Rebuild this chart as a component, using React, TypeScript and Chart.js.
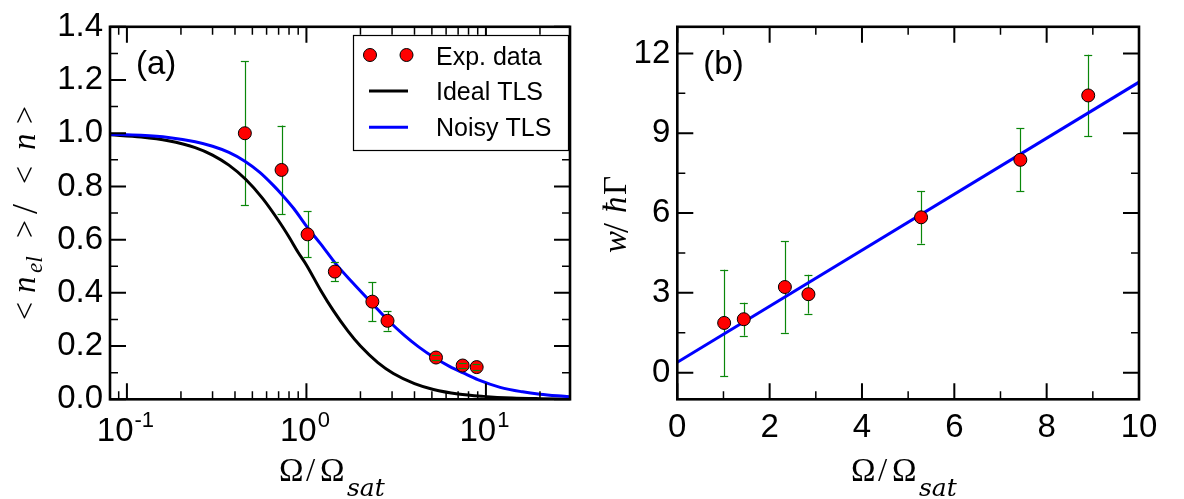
import React, { useEffect, useRef } from 'react';
import { Chart, registerables } from 'chart.js';

Chart.register(...registerables);

// ---------- data ----------
// panel (a)
const OMEGA_A = [0.454, 0.727, 1.015, 1.44, 2.33, 2.83, 5.27, 7.42, 8.88];
const NEL_A = [1.0, 0.862, 0.62, 0.48, 0.367, 0.295, 0.157, 0.127, 0.121];
const NEL_ERR_A = [0.27, 0.167, 0.087, 0.036, 0.074, 0.037, 0.01, 0.01, 0.01];

const IDEAL_X = [0.08, 0.12, 0.17, 0.24, 0.3, 0.37, 0.46, 0.57, 0.7, 0.8, 0.9, 1.0, 1.2, 1.41, 1.7, 2.0, 2.5, 3.05, 4.0, 5.1, 7.0, 9.7, 14, 20, 30];
const IDEAL_Y = [0.994, 0.986, 0.972, 0.946, 0.918, 0.88, 0.826, 0.755, 0.671, 0.61, 0.552, 0.505, 0.41, 0.334, 0.257, 0.2, 0.138, 0.097, 0.059, 0.037, 0.02, 0.011, 0.005, 0.0025, 0.0011];

const NOISY_X = [0.08, 0.12, 0.17, 0.24, 0.3, 0.37, 0.454, 0.55, 0.65, 0.727, 0.85, 1.0, 1.2, 1.47, 1.8, 2.31, 2.86, 3.5, 4.2, 5.2, 6.3, 7.48, 9.0, 12, 16, 20, 25, 30];
const NOISY_Y = [0.996, 0.992, 0.984, 0.968, 0.951, 0.928, 0.895, 0.853, 0.806, 0.771, 0.717, 0.651, 0.584, 0.506, 0.44, 0.362, 0.296, 0.241, 0.198, 0.155, 0.123, 0.099, 0.074, 0.045, 0.028, 0.019, 0.013, 0.0094];

// panel (b)
const OMEGA_B = [1.015, 1.44, 2.33, 2.84, 5.28, 7.43, 8.9];
const W_B = [1.87, 2.01, 3.22, 2.95, 5.84, 8.0, 10.42];
const W_ERR_B = [2.0, 0.62, 1.72, 0.73, 0.99, 1.18, 1.53];
const FIT_X_B = [0, 10];
const FIT_Y_B = [0.39, 10.92];

// ticks
const A_X_MAJOR = [0.1, 1, 10];
const A_X_MINOR = [0.09, 0.2, 0.3, 0.4, 0.5, 0.6, 0.7, 0.8, 0.9, 2, 3, 4, 5, 6, 7, 8, 9, 20];
const A_X_LABELS = ['-1', '0', '1'];
const A_Y_MAJOR = [0, 0.2, 0.4, 0.6, 0.8, 1.0, 1.2, 1.4];
const A_Y_MINOR = [0.1, 0.3, 0.5, 0.7, 0.9, 1.1, 1.3];
const B_X_MAJOR = [0, 2, 4, 6, 8, 10];
const B_X_MINOR = [1, 3, 5, 7, 9];
const B_Y_MAJOR = [0, 3, 6, 9, 12];
const B_Y_MINOR = [1.5, 4.5, 7.5, 10.5];

// ---------- styling ----------
const SANS = "'Liberation Sans', Arial, Helvetica, sans-serif";
const SERIF = "'Liberation Serif', 'Times New Roman', serif";
const TICK_FONT = 33;
const ERR_COLOR = '#0a870a';

type Piece = { t: string; font: string; dx: number; dy: number };

function drawPieces(ctx: CanvasRenderingContext2D, pieces: Piece[], x: number, y: number, rot: boolean) {
  ctx.save();
  ctx.translate(x, y);
  if (rot) ctx.rotate(-Math.PI / 2);
  ctx.fillStyle = '#000';
  ctx.textAlign = 'left';
  ctx.textBaseline = 'alphabetic';
  for (const p of pieces) {
    ctx.font = p.font;
    ctx.fillText(p.t, p.dx, p.dy);
  }
  ctx.restore();
}

const XTITLE: Piece[] = [
  { t: 'Ω', font: `33px ${SERIF}`, dx: 0, dy: 0 },
  { t: '/', font: `33px ${SERIF}`, dx: 27, dy: 0 },
  { t: 'Ω', font: `33px ${SERIF}`, dx: 41, dy: 0 },
  { t: 'sat', font: `italic 25px 'DejaVu Serif', serif`, dx: 68, dy: 15 },
];

const YTITLE_A: Piece[] = [
  { t: '<', font: `32px ${SERIF}`, dx: 0, dy: 0 },
  { t: 'n', font: `italic 33px ${SERIF}`, dx: 27, dy: 0 },
  { t: 'el', font: `italic 23px ${SERIF}`, dx: 47, dy: 7 },
  { t: '>', font: `32px ${SERIF}`, dx: 82, dy: 0 },
  { t: '/', font: `36px ${SERIF}`, dx: 106, dy: 2 },
  { t: '<', font: `32px ${SERIF}`, dx: 136, dy: 0 },
  { t: 'n', font: `italic 33px ${SERIF}`, dx: 170, dy: 0 },
  { t: '>', font: `32px ${SERIF}`, dx: 196, dy: 0 },
];

const YTITLE_B: Piece[] = [
  { t: 'w', font: `italic 33px ${SERIF}`, dx: 0, dy: 0 },
  { t: '/', font: `36px ${SERIF}`, dx: 20, dy: 2 },
  { t: 'ħ', font: `italic 33px ${SERIF}`, dx: 40, dy: 0 },
  { t: 'Γ', font: `33px ${SERIF}`, dx: 58, dy: 0 },
];

interface Spec {
  xMajor: number[];
  xMinor: number[];
  yMajor: number[];
  yMinor: number[];
  errX: number[];
  errY: number[];
  errV: number[];
  panelLabel: string;
  xTitleStart: number;
  yTitle: Piece[];
  yTitleX: number;
  yTitleY: number;
  legend: boolean;
  logLabels: boolean;
}

function makePlugin(spec: Spec) {
  return {
    id: 'panelDecor',
    beforeDatasetsDraw(chart: any) {
      const { ctx, scales } = chart;
      const xs = scales.x, ys = scales.y;
      ctx.save();
      ctx.strokeStyle = ERR_COLOR;
      ctx.lineWidth = 1.2;
      spec.errX.forEach((xv, i) => {
        const px = Math.round(xs.getPixelForValue(xv)) + 0.5;
        const y1 = ys.getPixelForValue(spec.errY[i] + spec.errV[i]);
        const y2 = ys.getPixelForValue(spec.errY[i] - spec.errV[i]);
        ctx.beginPath();
        ctx.moveTo(px, y1);
        ctx.lineTo(px, y2);
        ctx.stroke();
      });
      ctx.restore();
    },
    afterDatasetsDraw(chart: any) {
      const { ctx, scales, chartArea: a } = chart;
      const xs = scales.x, ys = scales.y;
      // error caps
      ctx.save();
      ctx.strokeStyle = ERR_COLOR;
      ctx.lineWidth = 1.2;
      spec.errX.forEach((xv, i) => {
        const px = xs.getPixelForValue(xv);
        for (const yv of [spec.errY[i] + spec.errV[i], spec.errY[i] - spec.errV[i]]) {
          const py = Math.round(ys.getPixelForValue(yv)) + 0.5;
          ctx.beginPath();
          ctx.moveTo(px - 4, py);
          ctx.lineTo(px + 4, py);
          ctx.stroke();
        }
      });
      ctx.restore();

      // inward ticks on all four sides
      ctx.save();
      ctx.strokeStyle = '#000';
      const xt = (vals: number[], len: number, lw: number) => {
        ctx.lineWidth = lw;
        for (const v of vals) {
          const px = xs.getPixelForValue(v);
          if (px < a.left - 0.5 || px > a.right + 0.5) continue;
          ctx.beginPath();
          ctx.moveTo(px, a.bottom);
          ctx.lineTo(px, a.bottom - len);
          ctx.moveTo(px, a.top);
          ctx.lineTo(px, a.top + len);
          ctx.stroke();
        }
      };
      const yt = (vals: number[], len: number, lw: number) => {
        ctx.lineWidth = lw;
        for (const v of vals) {
          const py = ys.getPixelForValue(v);
          if (py < a.top - 0.5 || py > a.bottom + 0.5) continue;
          ctx.beginPath();
          ctx.moveTo(a.left, py);
          ctx.lineTo(a.left + len, py);
          ctx.moveTo(a.right, py);
          ctx.lineTo(a.right - len, py);
          ctx.stroke();
        }
      };
      xt(spec.xMajor, 16, 2);
      xt(spec.xMinor, 8, 1.5);
      yt(spec.yMajor, 16, 2);
      yt(spec.yMinor, 8, 1.5);
      ctx.lineWidth = 2.6;
      ctx.strokeRect(a.left, a.top, a.right - a.left, a.bottom - a.top);
      ctx.restore();
    },
    afterDraw(chart: any) {
      const { ctx, scales, chartArea: a } = chart;
      const xs = scales.x;
      ctx.save();
      ctx.fillStyle = '#000';
      // log tick labels with superscripts
      if (spec.logLabels) {
        spec.xMajor.forEach((v, i) => {
          const px = xs.getPixelForValue(v);
          ctx.font = `${TICK_FONT}px ${SANS}`;
          const w1 = ctx.measureText('10').width;
          ctx.font = `22px ${SANS}`;
          const w2 = ctx.measureText(A_X_LABELS[i]).width;
          const x0 = px - (w1 + w2) / 2 - 2;
          ctx.textBaseline = 'alphabetic';
          ctx.textAlign = 'left';
          ctx.font = `${TICK_FONT}px ${SANS}`;
          ctx.fillText('10', x0, 441);
          ctx.font = `22px ${SANS}`;
          ctx.fillText(A_X_LABELS[i], x0 + w1 + 1, 427);
        });
      }
      // panel label
      ctx.font = `33px ${SANS}`;
      ctx.textAlign = 'left';
      ctx.textBaseline = 'alphabetic';
      ctx.fillText(spec.panelLabel, a.left + 26, 74);
      ctx.restore();

      drawPieces(ctx, XTITLE, spec.xTitleStart, 481, false);
      drawPieces(ctx, spec.yTitle, spec.yTitleX, spec.yTitleY, true);

      if (spec.legend) {
        const ds = chart.data.datasets;
        ctx.save();
        ctx.fillStyle = '#fff';
        ctx.fillRect(353.5, 35.5, 215, 115);
        ctx.strokeStyle = '#000';
        ctx.lineWidth = 1.2;
        ctx.strokeRect(353.5, 35.5, 215, 115);
        for (const mx of [370, 406.5]) {
          ctx.beginPath();
          ctx.arc(mx, 55, 6.5, 0, Math.PI * 2);
          ctx.fillStyle = ds[0].pointBackgroundColor;
          ctx.fill();
          ctx.lineWidth = 1;
          ctx.strokeStyle = ds[0].pointBorderColor;
          ctx.stroke();
        }
        const rows = [
          { y: 91, ds: ds[1] },
          { y: 127.3, ds: ds[2] },
        ];
        for (const r of rows) {
          ctx.beginPath();
          ctx.strokeStyle = r.ds.borderColor;
          ctx.lineWidth = 3;
          ctx.moveTo(369, r.y);
          ctx.lineTo(408, r.y);
          ctx.stroke();
        }
        ctx.fillStyle = '#000';
        ctx.font = `25px ${SANS}`;
        ctx.textAlign = 'left';
        ctx.textBaseline = 'alphabetic';
        ctx.fillText(ds[0].label, 436, 64.5);
        ctx.fillText(ds[1].label, 436, 100);
        ctx.fillText(ds[2].label, 436, 135.5);
        ctx.restore();
      }
    },
  };
}

const baseGrid = { display: false, drawTicks: false };

function configA(): any {
  return {
    type: 'scatter',
    data: {
      datasets: [
        {
          label: 'Exp. data',
          data: OMEGA_A.map((x, i) => ({ x, y: NEL_A[i] })),
          showLine: false,
          pointRadius: 6.5,
          pointBackgroundColor: '#ff0000',
          pointBorderColor: '#000000',
          pointBorderWidth: 1,
          backgroundColor: '#ff0000',
          borderColor: '#000000',
          order: 0,
        },
        {
          label: 'Ideal TLS',
          data: IDEAL_X.map((x, i) => ({ x, y: IDEAL_Y[i] })),
          showLine: true,
          borderColor: '#000000',
          borderWidth: 3,
          pointRadius: 0,
          cubicInterpolationMode: 'monotone',
          order: 2,
        },
        {
          label: 'Noisy TLS',
          data: NOISY_X.map((x, i) => ({ x, y: NOISY_Y[i] })),
          showLine: true,
          borderColor: '#0000ff',
          borderWidth: 3,
          pointRadius: 0,
          cubicInterpolationMode: 'monotone',
          order: 1,
        },
      ],
    },
    options: {
      responsive: false,
      animation: false,
      events: [],
      layout: { padding: { left: 0, right: 30, top: 23.3, bottom: 0 } },
      plugins: { legend: { display: false }, tooltip: { enabled: false } },
      scales: {
        x: {
          type: 'logarithmic',
          min: 0.0805,
          max: 29.4,
          grid: baseGrid,
          border: { display: false },
          ticks: { display: false },
          afterBuildTicks: (s: any) => { s.ticks = A_X_MAJOR.map((v) => ({ value: v })); },
          afterFit: (s: any) => { s.height = 99.7; },
        },
        y: {
          type: 'linear',
          min: 0,
          max: 1.4,
          grid: baseGrid,
          border: { display: false },
          ticks: {
            color: '#000',
            font: { family: SANS, size: TICK_FONT },
            padding: 7,
            callback: (v: any) => Number(v).toFixed(1),
          },
          afterBuildTicks: (s: any) => { s.ticks = A_Y_MAJOR.map((v) => ({ value: v })); },
          afterFit: (s: any) => { s.width = 110; },
        },
      },
    },
    plugins: [
      makePlugin({
        xMajor: A_X_MAJOR, xMinor: A_X_MINOR, yMajor: A_Y_MAJOR, yMinor: A_Y_MINOR,
        errX: OMEGA_A, errY: NEL_A, errV: NEL_ERR_A,
        panelLabel: '(a)', xTitleStart: 279, yTitle: YTITLE_A, yTitleX: 35, yTitleY: 320,
        legend: true, logLabels: true,
      }),
    ],
  };
}

function configB(): any {
  return {
    type: 'scatter',
    data: {
      datasets: [
        {
          label: 'data',
          data: OMEGA_B.map((x, i) => ({ x, y: W_B[i] })),
          showLine: false,
          pointRadius: 6.5,
          pointBackgroundColor: '#ff0000',
          pointBorderColor: '#000000',
          pointBorderWidth: 1,
          order: 0,
        },
        {
          label: 'fit',
          data: FIT_X_B.map((x, i) => ({ x, y: FIT_Y_B[i] })),
          showLine: true,
          borderColor: '#0000ff',
          borderWidth: 3,
          pointRadius: 0,
          order: 1,
        },
      ],
    },
    options: {
      responsive: false,
      animation: false,
      events: [],
      layout: { padding: { left: 0, right: 45, top: 23.3, bottom: 0 } },
      plugins: { legend: { display: false }, tooltip: { enabled: false } },
      scales: {
        x: {
          type: 'linear',
          min: 0,
          max: 10,
          grid: baseGrid,
          border: { display: false },
          ticks: { color: '#000', font: { family: SANS, size: TICK_FONT }, padding: 9, maxRotation: 0 },
          afterBuildTicks: (s: any) => { s.ticks = B_X_MAJOR.map((v) => ({ value: v })); },
          afterFit: (s: any) => { s.height = 99.7; },
        },
        y: {
          type: 'linear',
          min: -1,
          max: 13,
          grid: baseGrid,
          border: { display: false },
          ticks: { color: '#000', font: { family: SANS, size: TICK_FONT }, padding: 7 },
          afterBuildTicks: (s: any) => { s.ticks = B_Y_MAJOR.map((v) => ({ value: v })); },
          afterFit: (s: any) => { s.width = 77.3; },
        },
      },
    },
    plugins: [
      makePlugin({
        xMajor: B_X_MAJOR, xMinor: B_X_MINOR, yMajor: B_Y_MAJOR, yMinor: B_Y_MINOR,
        errX: OMEGA_B, errY: W_B, errV: W_ERR_B,
        panelLabel: '(b)', xTitleStart: 251, yTitle: YTITLE_B, yTitleX: 26, yTitleY: 253,
        legend: false, logLabels: false,
      }),
    ],
  };
}

function Panel({ left, width, make }: { left: number; width: number; make: () => any }) {
  const ref = useRef<HTMLCanvasElement | null>(null);
  useEffect(() => {
    if (!ref.current) return;
    const chart = new Chart(ref.current, make());
    return () => chart.destroy();
  }, []);
  return (
    <canvas
      ref={ref}
      width={width}
      height={499}
      style={{ position: 'absolute', left, top: 0, width, height: 499 }}
    />
  );
}

export default function App() {
  return (
    <div style={{ position: 'absolute', left: 0, top: 0, width: 1184, height: 499, background: '#fff', overflow: 'hidden' }}>
      <Panel left={0} width={600} make={configA} />
      <Panel left={600} width={584} make={configB} />
    </div>
  );
}
